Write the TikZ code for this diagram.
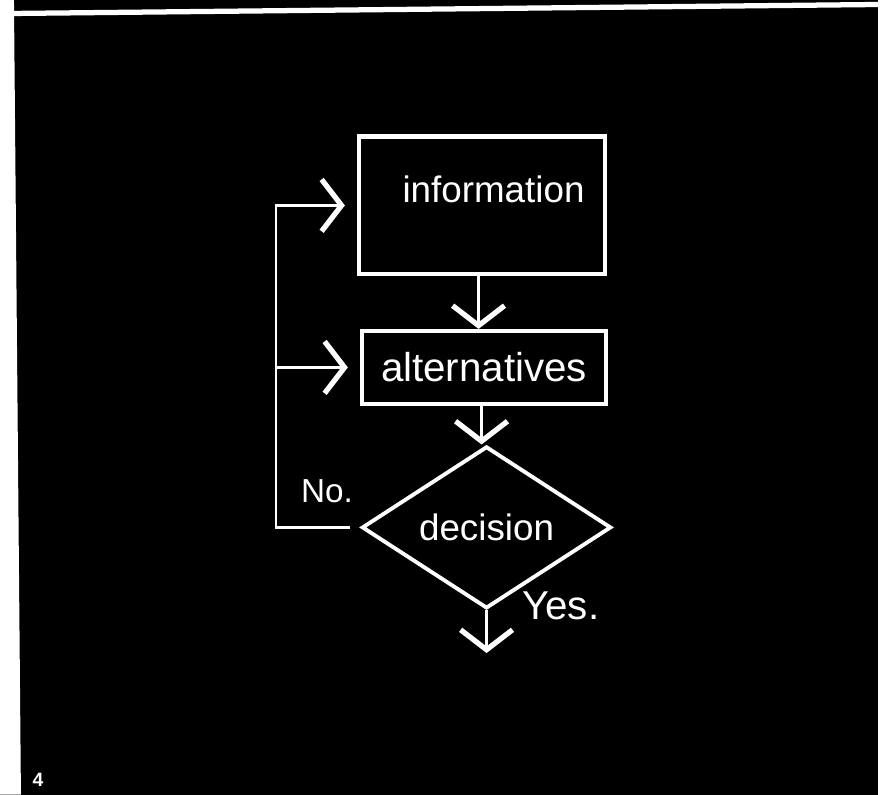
\documentclass[tikz,border=0pt]{standalone}
\usepackage{fontspec}
\setmainfont{Liberation Sans}
\usetikzlibrary{arrows.meta,positioning,shapes.geometric}

\begin{document}
\begin{tikzpicture}[
  every node/.style={text=white},
  box/.style={draw=white, line width=2.4pt, inner sep=0pt},
  choice/.style={draw=white, diamond, line width=2.2pt, inner sep=0pt, minimum width=5.0cm, minimum height=2.86cm},
  word/.style={font=\fontsize{21}{24}\selectfont},
  conn/.style={draw=white, line width=1.4pt, -{Straight Barb[length=4mm, width=10.4mm, line width=3pt]}},
  plain/.style={draw=white, line width=1.4pt}
]
% board and frame
\fill[black] (0,0) rectangle (17.62,-15.94);
\fill[white] (0,0) -- (0.28,0) -- (0.42,-15.94) -- (0,-15.94) -- cycle;
\draw[white, line width=3pt] (0.28,-0.27) -- (17.62,-0.09);
\useasboundingbox (0,0) rectangle (17.62,-15.94);

% blocks
\node[box, minimum width=4.94cm, minimum height=2.76cm] (info) at (9.67,-4.12) {};
\node[word] (infotxt) at (9.9,-3.8) {information};
\node[box, word, minimum width=4.9cm, minimum height=1.46cm, font=\fontsize{23}{26}\selectfont] (alt) at (9.71,-7.37) {alternatives};
\node[choice, word] (dec) at (9.76,-10.58) {decision};
\coordinate (out) at (9.76,-13.1);
\coordinate (loop) at (5.54,-10.58);

% labels
\node[font=\fontsize{19}{22}\selectfont] (no) at (6.56,-9.86) {No.};
\node[font=\fontsize{23}{26}\selectfont] (yes) at (11.25,-12.15) {Yes.};
\node[font=\bfseries\fontsize{11}{13}\selectfont] (page) at (0.76,-15.64) {4};

% connectors
\draw[conn] (info.south -| infotxt.south) ++(-0.3,0) coordinate (a) -- (a |- alt.north);
\draw[conn] (alt.south) ++(-0.05,0) coordinate (b) -- (b |- dec.north);
\draw[conn] (dec.south) -- (out);
\draw[conn, shorten <=2mm, shorten >=2.4mm] (dec.west) -- (loop) |- (info.west);
\draw[conn, shorten >=2.4mm] (loop |- alt.west) -- (alt.west);
\end{tikzpicture}
\end{document}
